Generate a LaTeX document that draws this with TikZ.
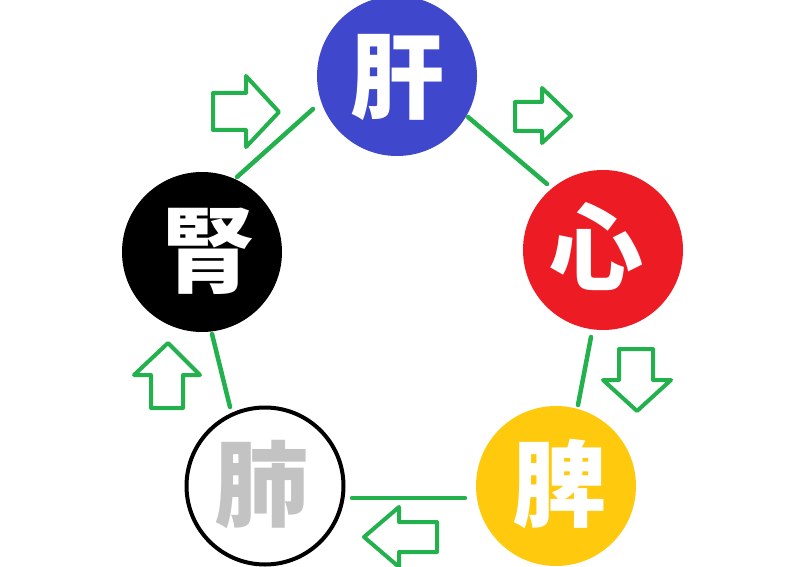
\documentclass[tikz,border=0pt]{standalone}
\usepackage{fontspec}
\newfontfamily\cjk{Noto Sans CJK JP}
\usetikzlibrary{calc}
\definecolor{gblue}{HTML}{3F48CC}
\definecolor{gred}{HTML}{ED1C24}
\definecolor{gyellow}{HTML}{FFC90E}
\definecolor{ggreen}{HTML}{22B14C}
\definecolor{ggray}{HTML}{C3C3C3}
\begin{document}
\begin{tikzpicture}[x=1pt,y=-1pt,
  organ/.style={circle,minimum size=160pt,inner sep=0pt,outer sep=0pt},
  glyph/.style={font=\cjk\bfseries\fontsize{94}{94}\selectfont,inner sep=0pt},
  link/.style={draw=ggreen,line width=4.5pt,line cap=round},
  blockarrow/.style={draw=ggreen,line width=4pt,fill=white,line join=round}]
\useasboundingbox[fill=white] (0,0) rectangle (800,567);

\node[organ,fill=gblue] (kan) at (397,76) {};
\node[organ,fill=gred] (shin) at (603,250) {};
\node[organ,fill=gyellow] (hi) at (556,486) {};
\node[organ,draw=black,line width=4pt,minimum size=157pt,fill=white] (hai) at (265,486) {};
\node[organ,fill=black] (jin) at (202,252) {};

\node[glyph,text=white] (kanT) at (397,77) {肝};
\node[glyph,text=white] (shinT) at (596,247) {心};
\node[glyph,text=white] (hiT) at (559,484) {脾};
\node[glyph,text=ggray] (haiT) at (261,485) {肺};
\node[glyph,text=white] (jinT) at (208,251) {腎};

\draw[link] ($(kan)+(71,41)$) -- ($(shin)+(-56,-66)$);
\draw[link] ($(shin)+(-12,87)$) -- ($(hi)+(22,-81)$);
\draw[link] ($(hi)+(-91,12)$) -- ($(hai)+(87,12)$);
\draw[link] ($(hai)+(-35,-79)$) -- ($(jin)+(10,82)$);
\draw[link] ($(jin)+(35,-75)$) -- ($(kan)+(-84,33)$);

\draw[blockarrow] (213,93) -- (246,93) -- (246,76) -- (279,112) -- (246,147) -- (246,130) -- (213,130) -- cycle;
\draw[blockarrow] (515,102) -- (542,102) -- (542,88) -- (571,116) -- (542,143) -- (542,131) -- (515,131) -- cycle;
\draw[blockarrow] (619,349) -- (653,349) -- (653,380) -- (671,380) -- (637,411) -- (603,380) -- (619,380) -- cycle;
\draw[blockarrow] (437,522) -- (399,522) -- (399,507) -- (364,537) -- (399,567) -- (399,552) -- (437,552) -- cycle;
\draw[blockarrow] (151,408) -- (151,375) -- (134,375) -- (168,343) -- (200,375) -- (183,375) -- (183,408) -- cycle;
\end{tikzpicture}
\end{document}
